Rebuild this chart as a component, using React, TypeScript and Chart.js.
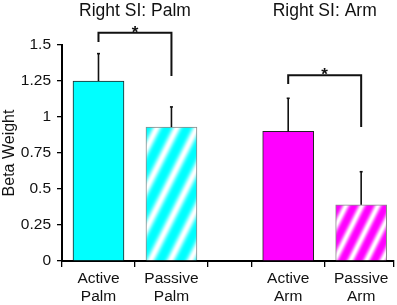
import React, { useEffect, useRef } from 'react';
import { Chart, registerables } from 'chart.js';

Chart.register(...registerables);

// ---- data ----
const groupTitles = ['Right SI: Palm', 'Right SI: Arm'];
const categoryLabels = [['Active', 'Palm'], ['Passive', 'Palm'], ['Active', 'Arm'], ['Passive', 'Arm']];
const categoryGroup = [0, 0, 1, 1];
const betaWeights = [1.25, 0.93, 0.9, 0.39];
const betaErrors = [0.19, 0.14, 0.23, 0.23];
const yTickValues = [0, 0.25, 0.5, 0.75, 1, 1.25, 1.5];
const sigFrom = [0, 2];
const sigTo = [1, 3];
const sigLevel = [1.585, 1.29];
const sigLeftEnd = [1.52, 1.23];
const sigRightEnd = [1.285, 0.93];
const sigMarks = ['*', '*'];

// ---- layout constants ----
const GROUP_GAP = 0.6;
const AXIS_END = 4.55;
const FONT = 'Arial, "Liberation Sans", sans-serif';

function stripePattern(ctx: CanvasRenderingContext2D, rgb: number[], period: number) {
  const w = period;
  const h = period * 2;
  const c = document.createElement('canvas');
  c.width = w;
  c.height = h;
  const g = c.getContext('2d')!;
  const img = g.createImageData(w, h);
  for (let y = 0; y < h; y++) {
    for (let x = 0; x < w; x++) {
      const t = (((x + 0.5 * y) % period) + period) % period / period;
      const s = Math.pow((1 + Math.cos(2 * Math.PI * t)) / 2, 1.8);
      const k = (y * w + x) * 4;
      img.data[k] = Math.round(rgb[0] * (1 - s) + 255 * s);
      img.data[k + 1] = Math.round(rgb[1] * (1 - s) + 255 * s);
      img.data[k + 2] = Math.round(rgb[2] * (1 - s) + 255 * s);
      img.data[k + 3] = 255;
    }
  }
  g.putImageData(img, 0, 0);
  return ctx.createPattern(c, 'repeat')!;
}

export default function App() {
  const ref = useRef<HTMLCanvasElement>(null);

  useEffect(() => {
    const canvas = ref.current!;
    const ctx = canvas.getContext('2d')!;

    const slotX = categoryLabels.map((_, i) => i + 0.5 + categoryGroup[i] * GROUP_GAP);
    const boundaries = [0, 1, 2, 2 + GROUP_GAP, 3 + GROUP_GAP, AXIS_END];

    const cyanPattern = stripePattern(ctx, [0, 255, 255], 20);
    const magentaPattern = stripePattern(ctx, [255, 0, 255], 16);

    const overlay = {
      id: 'overlay',
      afterDatasetsDraw(chart: any) {
        const c = chart.ctx;
        const meta = chart.getDatasetMeta(0);
        const ys = chart.scales.y;
        c.save();
        // error bars
        c.strokeStyle = '#111';
        c.lineWidth = 1.6;
        betaWeights.forEach((v, i) => {
          const x = meta.data[i].x;
          const y0 = ys.getPixelForValue(v);
          const y1 = ys.getPixelForValue(v + betaErrors[i]);
          c.beginPath();
          c.moveTo(x, y0);
          c.lineTo(x, y1);
          c.stroke();
          c.beginPath();
          c.moveTo(x - 1.5, y1);
          c.lineTo(x + 1.5, y1);
          c.stroke();
        });
        // significance brackets
        c.lineWidth = 2;
        c.lineJoin = 'miter';
        sigFrom.forEach((f, k) => {
          const xl = meta.data[f].x;
          const xr = meta.data[sigTo[k]].x;
          const yl = ys.getPixelForValue(sigLevel[k]);
          c.beginPath();
          c.moveTo(xl, ys.getPixelForValue(sigLeftEnd[k]));
          c.lineTo(xl, yl);
          c.lineTo(xr, yl);
          c.lineTo(xr, ys.getPixelForValue(sigRightEnd[k]));
          c.stroke();
          c.fillStyle = '#111';
          c.font = `bold 17px ${FONT}`;
          c.textAlign = 'center';
          c.textBaseline = 'alphabetic';
          c.fillText(sigMarks[k], (xl + xr) / 2, yl + 5);
        });
        // group titles
        c.fillStyle = '#111';
        c.font = `17.5px ${FONT}`;
        c.textAlign = 'center';
        c.textBaseline = 'alphabetic';
        groupTitles.forEach((t, gi) => {
          const xs = meta.data.filter((_: any, i: number) => categoryGroup[i] === gi).map((el: any) => el.x);
          const cx = xs.reduce((a: number, b: number) => a + b, 0) / xs.length;
          c.fillText(t, cx, 16);
        });
        c.restore();
      },
    };

    const chart = new Chart(canvas, {
      type: 'bar',
      data: {
        datasets: [
          {
            data: betaWeights.map((v, i) => ({ x: slotX[i], y: v })),
            backgroundColor: ['#00ffff', cyanPattern, '#ff00ff', magentaPattern] as any,
            borderColor: ['#222', '#8a8a8a', '#222', '#8a8a8a'],
            borderWidth: 1,
            barThickness: 51,
            xAxisID: 'x',
            yAxisID: 'y',
          },
        ],
      },
      options: {
        responsive: false,
        animation: false,
        layout: { padding: { top: 45, right: 3, left: 0, bottom: 0 } },
        plugins: { legend: { display: false }, tooltip: { enabled: false } },
        scales: {
          x: {
            type: 'linear',
            position: 'bottom',
            offset: false,
            weight: 0,
            min: 0,
            max: AXIS_END,
            afterBuildTicks: (s: any) => {
              s.ticks = boundaries.map((v) => ({ value: v }));
            },
            afterFit: (s: any) => {
              s.height = 7;
            },
            ticks: { display: false, autoSkip: false },
            grid: { offset: false, drawOnChartArea: false, drawTicks: true, tickLength: 6, color: '#000', lineWidth: 1.3 },
            border: { color: '#000', width: 2 },
          },
          xl: {
            type: 'linear',
            position: 'bottom',
            offset: false,
            weight: 1,
            min: 0,
            max: AXIS_END,
            afterBuildTicks: (s: any) => {
              s.ticks = slotX.map((v) => ({ value: v }));
            },
            afterFit: (s: any) => {
              s.height = 37;
            },
            ticks: {
              autoSkip: false,
              maxRotation: 0,
              minRotation: 0,
              padding: 1,
              color: '#111',
              font: { family: FONT, size: 15.5, lineHeight: 1.2 },
              callback: (_v: any, i: number) => categoryLabels[i] as any,
            },
            grid: { display: false, drawTicks: false, offset: false },
            border: { display: false },
          },
          y: {
            min: 0,
            max: 1.5,
            afterBuildTicks: (s: any) => {
              s.ticks = yTickValues.map((v) => ({ value: v }));
            },
            afterFit: (s: any) => {
              s.width = 62;
            },
            ticks: {
              padding: 6,
              color: '#111',
              font: { family: FONT, size: 15.5 },
              callback: (v: any) => String(v),
            },
            grid: { drawOnChartArea: false, drawTicks: true, tickLength: 5, color: '#000', lineWidth: 1.3 },
            border: { color: '#000', width: 2 },
            title: {
              display: true,
              text: 'Beta Weight',
              color: '#111',
              padding: 0,
              font: { family: FONT, size: 16 },
            },
          },
        },
      },
      plugins: [overlay],
    });
    return () => chart.destroy();
  }, []);

  return (
    <div style={{ position: 'absolute', left: 0, top: 0, width: 397, height: 305, background: '#fff' }}>
      <canvas ref={ref} width={397} height={305} />
    </div>
  );
}
